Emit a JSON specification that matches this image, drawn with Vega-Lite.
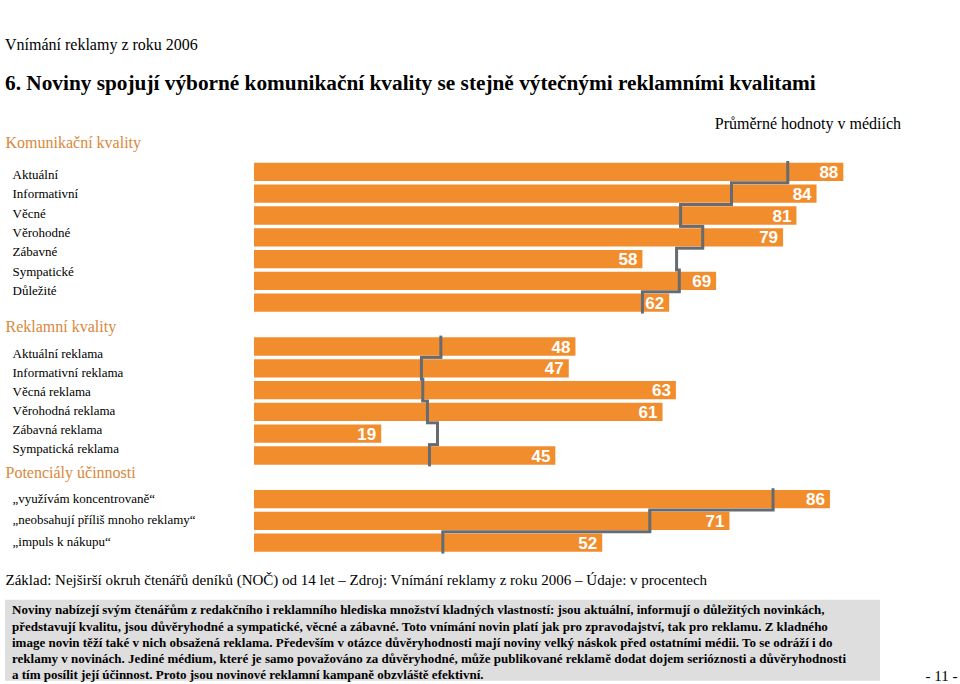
{
  "$schema": "https://vega.github.io/schema/vega-lite/v6.json",
  "background": "white",
  "padding": {"left": 5, "top": 36, "right": 5, "bottom": 0},
  "title": {
    "text": "Vnímání reklamy z roku 2006",
    "subtitle": "6. Noviny spojují výborné komunikační kvality se stejně výtečnými reklamními kvalitami",
    "anchor": "start", "frame": "bounds",
    "font": "Liberation Serif", "fontSize": 16, "fontWeight": "normal", "color": "black",
    "subtitleFont": "Liberation Serif", "subtitleFontSize": 21.3, "subtitleFontWeight": "bold", "subtitleColor": "black",
    "subtitlePadding": 20, "offset": 22
  },
  "datasets": {
    "komunikace": [
      {"polozka": "Aktuální", "hodnota": 88, "prumer": 79.7},
      {"polozka": "Informativní", "hodnota": 84, "prumer": 71.3},
      {"polozka": "Věcné", "hodnota": 81, "prumer": 63.7},
      {"polozka": "Věrohodné", "hodnota": 79, "prumer": 67.0},
      {"polozka": "Zábavné", "hodnota": 58, "prumer": 63.1},
      {"polozka": "Sympatické", "hodnota": 69, "prumer": 63.5},
      {"polozka": "Důležité", "hodnota": 62, "prumer": 58.0}
    ],
    "reklama": [
      {"polozka": "Aktuální reklama", "hodnota": 48, "prumer": 27.9},
      {"polozka": "Informativní reklama", "hodnota": 47, "prumer": 25.0},
      {"polozka": "Věcná reklama", "hodnota": 63, "prumer": 25.2},
      {"polozka": "Věrohodná reklama", "hodnota": 61, "prumer": 25.9},
      {"polozka": "Zábavná reklama", "hodnota": 19, "prumer": 27.4},
      {"polozka": "Sympatická reklama", "hodnota": 45, "prumer": 26.2}
    ],
    "potencial": [
      {"polozka": "„využívám koncentrovaně“", "hodnota": 86, "prumer": 77.5},
      {"polozka": "„neobsahují příliš mnoho reklamy“", "hodnota": 71, "prumer": 59.1},
      {"polozka": "„impuls k nákupu“", "hodnota": 52, "prumer": 28.2}
    ],
    "odstavec": [
      {"radek": 1, "text": "Noviny nabízejí svým čtenářům z redakčního i reklamního hlediska množství kladných vlastností: jsou aktuální, informují o důležitých novinkách,"},
      {"radek": 2, "text": "představují kvalitu, jsou důvěryhodné a sympatické, věcné a zábavné. Toto vnímání novin platí jak pro zpravodajství, tak pro reklamu. Z kladného"},
      {"radek": 3, "text": "image novin těží také v nich obsažená reklama. Především v otázce důvěryhodnosti mají noviny velký náskok před ostatními médii. To se odráží i do"},
      {"radek": 4, "text": "reklamy v novinách. Jediné médium, které je samo považováno za důvěryhodné, může publikované reklamě dodat dojem serióznosti a důvěryhodnosti"},
      {"radek": 5, "text": "a tím posílit její účinnost. Proto jsou novinové reklamní kampaně obzvláště efektivní."}
    ]
  },
  "spacing": 21.6,
  "bounds": "flush",
  "vconcat": [
    {
      "data": {"name": "komunikace"},
      "width": 896,
      "height": {"step": 21.8},
      "title": {"text": "Průměrné hodnoty v médiích", "anchor": "end", "frame": "group", "font": "Liberation Serif", "fontSize": 16, "fontWeight": "normal", "color": "black", "offset": 2},
      "encoding": {
        "y": {"field": "polozka", "type": "nominal", "sort": null,
          "scale": {"paddingInner": 0.16, "paddingOuter": 0.08},
          "axis": {"title": null, "orient": "left", "ticks": false, "tickSize": 0, "domain": false, "labelAlign": "left", "labelPadding": -7, "labelFont": "Liberation Serif", "labelFontSize": 13, "labelColor": "black", "labelLimit": 0,
            "encoding": {"labels": {"dy": {"value": {"expr": "3.1 - 14.8*datum.index"}}}}}}
      },
      "layer": [
        {"mark": {"type": "bar", "color": "#F28D2E"},
         "encoding": {"x": {"field": "hodnota", "type": "quantitative", "scale": {"domain": [-37.18, 96.61], "nice": false, "zero": false},
           "axis": {"orient": "top", "labels": false, "ticks": false, "domain": false, "grid": false, "title": "Komunikační kvality", "titleAnchor": "start", "titleAlign": "left", "titlePadding": 11, "titleFont": "Liberation Serif", "titleFontSize": 16, "titleFontWeight": "normal", "titleColor": "#D9883C"}}}},
        {"mark": {"type": "text", "align": "right", "baseline": "middle", "dx": -5, "dy": 1, "color": "white", "font": "Liberation Sans", "fontSize": 17, "fontWeight": "bold"},
         "encoding": {"x": {"field": "hodnota", "type": "quantitative"}, "text": {"field": "hodnota", "type": "quantitative"}}},
        {"mark": {"type": "tick", "orient": "vertical", "size": 21.8, "thickness": 3, "color": "#676b71", "opacity": 1},
         "encoding": {"x": {"field": "prumer", "type": "quantitative"}}},
        {"transform": [{"window": [{"op": "lead", "field": "prumer", "as": "dalsi"}]}, {"filter": "isValid(datum.dalsi)"}],
         "mark": {"type": "rule", "strokeWidth": 3, "strokeCap": "square", "color": "#676b71"},
         "encoding": {"x": {"field": "prumer", "type": "quantitative"}, "x2": {"field": "dalsi"}, "y": {"field": "polozka", "type": "nominal", "sort": null, "bandPosition": 1.0955}}}
      ]
    },
    {
      "data": {"name": "reklama"},
      "width": 896,
      "height": {"step": 21.8},
      "encoding": {
        "y": {"field": "polozka", "type": "nominal", "sort": null,
          "scale": {"paddingInner": 0.16, "paddingOuter": 0.08},
          "axis": {"title": null, "orient": "left", "ticks": false, "tickSize": 0, "domain": false, "labelAlign": "left", "labelPadding": -7, "labelFont": "Liberation Serif", "labelFontSize": 13, "labelColor": "black", "labelLimit": 0,
            "encoding": {"labels": {"dy": {"value": {"expr": "7.5 - 14*datum.index"}}}}}}
      },
      "layer": [
        {"mark": {"type": "bar", "color": "#F28D2E"},
         "encoding": {"x": {"field": "hodnota", "type": "quantitative", "scale": {"domain": [-37.18, 96.61], "nice": false, "zero": false},
           "axis": {"orient": "top", "labels": false, "ticks": false, "domain": false, "grid": false, "title": "Reklamní kvality", "titleAnchor": "start", "titleAlign": "left", "titlePadding": 1.3, "titleFont": "Liberation Serif", "titleFontSize": 16, "titleFontWeight": "normal", "titleColor": "#D9883C"}}}},
        {"mark": {"type": "text", "align": "right", "baseline": "middle", "dx": -5, "dy": 1, "color": "white", "font": "Liberation Sans", "fontSize": 17, "fontWeight": "bold"},
         "encoding": {"x": {"field": "hodnota", "type": "quantitative"}, "text": {"field": "hodnota", "type": "quantitative"}}},
        {"mark": {"type": "tick", "orient": "vertical", "size": 21.8, "thickness": 3, "color": "#676b71", "opacity": 1},
         "encoding": {"x": {"field": "prumer", "type": "quantitative"}}},
        {"transform": [{"window": [{"op": "lead", "field": "prumer", "as": "dalsi"}]}, {"filter": "isValid(datum.dalsi)"}],
         "mark": {"type": "rule", "strokeWidth": 3, "strokeCap": "square", "color": "#676b71"},
         "encoding": {"x": {"field": "prumer", "type": "quantitative"}, "x2": {"field": "dalsi"}, "y": {"field": "polozka", "type": "nominal", "sort": null, "bandPosition": 1.0955}}}
      ]
    },
    {
      "data": {"name": "potencial"},
      "width": 896,
      "height": 89.8,
      "encoding": {
        "y": {"field": "polozka", "type": "nominal", "sort": null,
          "scale": {"paddingInner": 0.16, "paddingOuter": 0.08, "range": [0, 65.4]},
          "axis": {"title": null, "orient": "left", "ticks": false, "tickSize": 0, "domain": false, "labelAlign": "left", "labelPadding": -7, "labelFont": "Liberation Serif", "labelFontSize": 13, "labelColor": "black", "labelLimit": 0, "labelOffset": -0.5}}
      },
      "layer": [
        {"mark": {"type": "bar", "color": "#F28D2E"},
         "encoding": {"x": {"field": "hodnota", "type": "quantitative", "scale": {"domain": [-37.18, 96.61], "nice": false, "zero": false},
           "axis": {"orient": "top", "labels": false, "ticks": false, "domain": false, "grid": false, "title": "Potenciály účinnosti", "titleAnchor": "start", "titleAlign": "left", "titlePadding": 7.6, "titleFont": "Liberation Serif", "titleFontSize": 16, "titleFontWeight": "normal", "titleColor": "#D9883C"}}}},
        {"mark": {"type": "text", "align": "right", "baseline": "middle", "dx": -5, "dy": 1, "color": "white", "font": "Liberation Sans", "fontSize": 17, "fontWeight": "bold"},
         "encoding": {"x": {"field": "hodnota", "type": "quantitative"}, "text": {"field": "hodnota", "type": "quantitative"}}},
        {"mark": {"type": "tick", "orient": "vertical", "size": 21.8, "thickness": 3, "color": "#676b71", "opacity": 1},
         "encoding": {"x": {"field": "prumer", "type": "quantitative"}}},
        {"transform": [{"window": [{"op": "lead", "field": "prumer", "as": "dalsi"}]}, {"filter": "isValid(datum.dalsi)"}],
         "mark": {"type": "rule", "strokeWidth": 3, "strokeCap": "square", "color": "#676b71"},
         "encoding": {"x": {"field": "prumer", "type": "quantitative"}, "x2": {"field": "dalsi"}, "y": {"field": "polozka", "type": "nominal", "sort": null, "bandPosition": 1.0955}}}
      ]
    },
    {
      "data": {"name": "odstavec"},
      "width": 875,
      "height": 81,
      "view": {"fill": "#dedede", "stroke": null},
      "mark": {"type": "text", "align": "left", "baseline": "middle", "dx": 7, "dy": 2.5, "font": "Liberation Serif", "fontSize": 13, "fontWeight": "bold", "color": "black"},
      "encoding": {
        "x": {"datum": 0, "type": "quantitative", "scale": {"domain": [0, 1]},
          "axis": {"orient": "top", "labels": false, "ticks": false, "domain": false, "grid": false, "title": "Základ: Nejširší okruh čtenářů deníků (NOČ) od 14 let – Zdroj: Vnímání reklamy z roku 2006 – Údaje: v procentech", "titleAnchor": "start", "titleAlign": "left", "titlePadding": 12, "titleFont": "Liberation Serif", "titleFontSize": 15, "titleFontWeight": "normal", "titleColor": "black"}},
        "y": {"field": "radek", "type": "ordinal", "scale": {"type": "point", "padding": 0.5},
          "axis": {"orient": "right", "labels": false, "ticks": false, "domain": false, "grid": false, "title": "- 11 -", "titleAngle": 0, "titleAlign": "left", "titleBaseline": "middle", "titleY": 76, "titlePadding": 45, "titleFont": "Liberation Serif", "titleFontSize": 15, "titleFontWeight": "normal", "titleColor": "black"}},
        "text": {"field": "text", "type": "nominal"}
      }
    }
  ],
  "config": {"view": {"stroke": null}, "axis": {"grid": false}, "font": "Liberation Serif"}
}
